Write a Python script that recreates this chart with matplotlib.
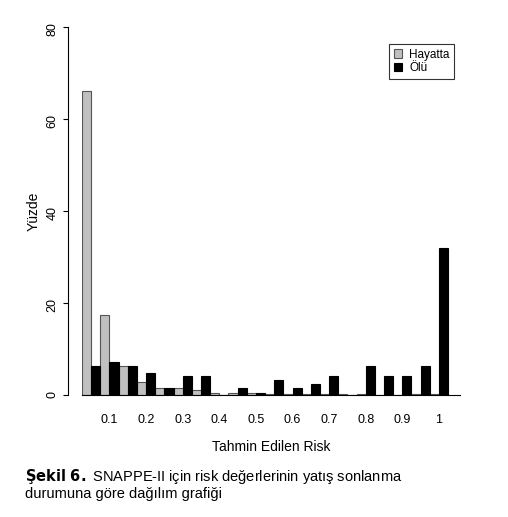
import numpy as np
import matplotlib.pyplot as plt

plt.rcParams['font.family'] = ['Liberation Sans', 'DejaVu Sans']

hayatta = [66, 17.5, 6.4, 2.8, 1.5, 1.5, 1.1, 0.5, 0.5, 0.5,
           0.2, 0.2, 0.3, 0.3, 0.2, 0.2, 0, 0, 0.2, 0.2]
olu = [6.4, 7.2, 6.4, 4.8, 1.5, 4.2, 4.2, 0, 1.5, 0.5,
       3.3, 1.5, 2.4, 4.2, 0, 6.4, 4.2, 4.2, 6.4, 32]
tick_labels = ['0.1', '0.2', '0.3', '0.4', '0.5', '0.6', '0.7', '0.8', '0.9', '1']

fig = plt.figure(figsize=(5.08, 5.17), dpi=100)
ax = fig.add_axes([82 / 508, 1 - 395 / 517, 378 / 508, 368 / 517])

x = np.arange(len(hayatta))
w = 0.5
ax.bar(x + w / 2, hayatta, w, color='#c0c0c0', edgecolor='#555555', linewidth=0.8, label='Hayatta')
ax.bar(x + w * 1.5, olu, w, color='black', edgecolor='black', linewidth=0.8, label='Ölü')

ax.set_xlim(0, 20.65)
ax.set_ylim(0, 80)
ax.set_yticks([0, 20, 40, 60, 80])
ax.set_xticks(np.arange(1, 20, 2) + 0.5)
ax.set_xticklabels(tick_labels)
ax.tick_params(axis='x', length=0, pad=14, labelsize=9)
ax.tick_params(axis='y', labelsize=9, labelrotation=90)
for lab in ax.get_yticklabels():
    lab.set_va('center')
for s in ['top', 'right']:
    ax.spines[s].set_visible(False)
ax.spines['left'].set_position(('outward', 10))
ax.spines['left'].set_bounds(0, 80)
ax.set_ylabel('Yüzde', fontsize=10)
ax.set_xlabel('Tahmin Edilen Risk', fontsize=10, labelpad=10)

leg = ax.legend(loc='upper right', bbox_to_anchor=(1.0, 0.97), fontsize=8.5, fancybox=False,
                edgecolor='black', handlelength=0.7, handleheight=0.7, borderpad=0.4,
                labelspacing=0.1, handletextpad=0.6)
leg.get_frame().set_linewidth(0.8)

fig.text(25 / 508, 1 - 477 / 517, r'$\bf{Şekil\ 6.}$ SNAPPE-II için risk değerlerinin yatış sonlanma',
         fontsize=10.5, va='center')
fig.text(25 / 508, 1 - 494 / 517, 'durumuna göre dağılım grafiği', fontsize=10.5, va='center')

fig.savefig('out.png', dpi=100)
